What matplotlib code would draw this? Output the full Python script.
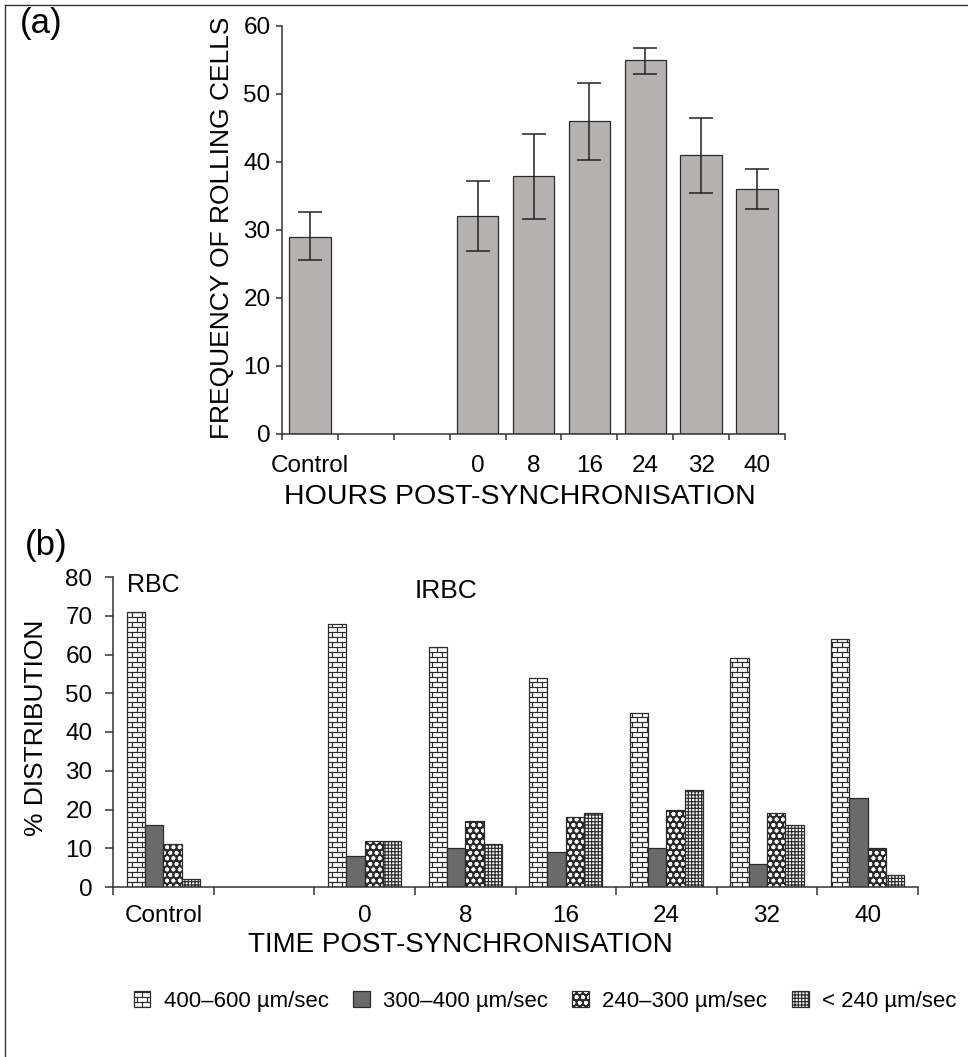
import warnings
import numpy as np
import matplotlib
matplotlib.use('Agg')
import matplotlib.pyplot as plt
from matplotlib import hatch as mhatch
from matplotlib.path import Path
from matplotlib.lines import Line2D

warnings.filterwarnings('ignore', message='hatch must consist')

# ---- data -------------------------------------------------------------
top_categories = ['Control', '', '', '0', '8', '16', '24', '32', '40']
top_bar_idx = [0, 3, 4, 5, 6, 7, 8]
top_values = [29, 32, 38, 46, 55, 41, 36]
top_err_low = [25.6, 26.9, 31.6, 40.3, 53.0, 35.4, 33.1]
top_err_high = [32.6, 37.2, 44.1, 51.6, 56.8, 46.5, 39.0]

bot_categories = ['Control', '', '0', '8', '16', '24', '32', '40']
bot_group_idx = [0, 2, 3, 4, 5, 6, 7]
speed_labels = ['400\u2013600 \u00b5m/sec', '300\u2013400 \u00b5m/sec',
                '240\u2013300 \u00b5m/sec', '< 240 \u00b5m/sec']
speed_400_600 = [71, 68, 62, 54, 45, 59, 64]
speed_300_400 = [16, 8, 10, 9, 10, 6, 23]
speed_240_300 = [11, 12, 17, 18, 20, 19, 10]
speed_below_240 = [2, 12, 11, 19, 25, 16, 3]


# ---- custom hatches (brick wall 'b', packed circles 'c') ---------------
class BrickHatch(mhatch.HatchPatternBase):
    def __init__(self, hatch, density):
        n = hatch.count('b')
        self.rows = 20 * n
        self.cols = 10 * n
        if n == 0:
            self.num_vertices = 0
            return
        h = 1.0 / self.rows
        w = 1.0 / self.cols
        segs = []
        for r in range(self.rows):
            y = (r + 0.5) * h
            segs.append(((0.0, y), (1.0, y)))
            shift = 0.25 * w if r % 2 == 0 else 0.75 * w
            for c in range(self.cols):
                x = c * w + shift
                y1 = y + h
                if y1 > 1.0:
                    segs.append(((x, y), (x, 1.0)))
                    segs.append(((x, 0.0), (x, y1 - 1.0)))
                else:
                    segs.append(((x, y), (x, y1)))
        self.segs = np.array(segs).reshape(-1, 2)
        self.num_vertices = len(self.segs)

    def set_vertices_and_codes(self, vertices, codes):
        vertices[:] = self.segs
        codes[0::2] = Path.MOVETO
        codes[1::2] = Path.LINETO


class PackedCircleHatch(mhatch.HatchPatternBase):
    def __init__(self, hatch, density):
        n = hatch.count('c')
        if n == 0:
            self.num_vertices = 0
            return
        cols = 16 * n
        rows = 18 * n
        rad = 0.48 / cols
        circ = Path.unit_circle()
        # outer ring forward + inner ring backward, so agg's fill leaves a thin ring
        ring_v = np.concatenate([circ.vertices, circ.vertices[::-1] * 0.97])
        ring_c = np.concatenate([circ.codes, circ.codes])
        verts, codes = [], []
        for r in range(rows):
            cy = (r + 0.5) / rows
            for c in range(cols):
                cx = (c + 0.25 + 0.5 * (r % 2)) / cols
                for dx in (-1, 0, 1):
                    for dy in (-1, 0, 1):
                        x0, y0 = cx + dx, cy + dy
                        if x0 + rad < 0 or x0 - rad > 1 or y0 + rad < 0 or y0 - rad > 1:
                            continue
                        verts.append(ring_v * rad + [x0, y0])
                        codes.append(ring_c)
        self.verts = np.concatenate(verts)
        self.codes = np.concatenate(codes)
        self.num_vertices = len(self.verts)

    def set_vertices_and_codes(self, vertices, codes):
        vertices[:] = self.verts
        codes[:] = self.codes


mhatch._hatch_types.extend([BrickHatch, PackedCircleHatch])

plt.rcParams['font.family'] = ['Liberation Sans', 'DejaVu Sans']
plt.rcParams['hatch.linewidth'] = 0.85

edge = '#2b2b2b'
fig = plt.figure(figsize=(9.68, 10.57), dpi=100)

# frame lines of the figure (top and left only)
fig.add_artist(Line2D([5 / 968, 5 / 968], [0, 1 - 5 / 1057], transform=fig.transFigure,
                      color='#333333', lw=1.0))
fig.add_artist(Line2D([5 / 968, 1], [1 - 5 / 1057, 1 - 5 / 1057], transform=fig.transFigure,
                      color='#333333', lw=1.0))


def style_axes(ax, ncat, ticklen, pad_x):
    for s in ['top', 'right']:
        ax.spines[s].set_visible(False)
    for s in ['left', 'bottom']:
        ax.spines[s].set_linewidth(1.1)
        ax.spines[s].set_color('#333333')
    ax.set_xlim(-0.5, ncat - 0.5)
    ax.set_xticks(np.arange(ncat + 1) - 0.5)
    ax.set_xticklabels([])
    ax.tick_params(axis='x', which='major', direction='out', length=ticklen,
                   width=1.1, color='#333333')
    ax.tick_params(axis='x', which='minor', length=0, pad=pad_x, labelsize=17.5)
    ax.tick_params(axis='y', direction='out', length=ticklen, width=1.1,
                   color='#333333', labelsize=17.5)


# ---- panel (a) --------------------------------------------------------
ax1 = fig.add_axes([282 / 968, 1 - 434 / 1057, 503 / 968, 408 / 1057])
yerr = [np.array(top_values) - np.array(top_err_low),
        np.array(top_err_high) - np.array(top_values)]
ax1.bar(top_bar_idx, top_values, width=0.74, color='#b6b1b1', edgecolor=edge,
        linewidth=0.9, yerr=yerr, capsize=8.5,
        error_kw=dict(elinewidth=1.1, capthick=1.1, ecolor='#222222'))
style_axes(ax1, len(top_categories), 4.3, 15)
ax1.set_xticks(np.arange(len(top_categories)), minor=True)
ax1.set_xticklabels(top_categories, minor=True)
ax1.set_ylim(0, 60)
ax1.set_yticks(np.arange(0, 61, 10))
ax1.tick_params(axis='y', pad=4)
ax1.set_ylabel('FREQUENCY OF ROLLING CELLS', fontsize=19)
ax1.yaxis.set_label_coords(-0.119, 0.505)
ax1.yaxis.label.set_va('center')
ax1.set_xlabel('HOURS POST-SYNCHRONISATION', fontsize=20.5)
ax1.xaxis.set_label_coords(0.473, -0.155)
ax1.xaxis.label.set_va('center')
fig.text(20 / 968, 1 - 24 / 1057, '(a)', fontsize=25, ha='left', va='center')

# ---- panel (b) --------------------------------------------------------
ax2 = fig.add_axes([113 / 968, 1 - 887 / 1057, 805 / 968, 310 / 1057])
bw = 0.182
series = [speed_400_600, speed_300_400, speed_240_300, speed_below_240]
faces = ['white', '#6a6a6a', 'white', 'white']
hatches = ['b', None, 'c', '+++++']
handles = []
for k, (vals, fc, ht) in enumerate(zip(series, faces, hatches)):
    pos = np.array(bot_group_idx) + (k - 1.5) * bw
    bars = ax2.bar(pos, vals, width=bw, color=fc, edgecolor=edge, linewidth=0.9,
                   hatch=ht, label=speed_labels[k])
    handles.append(bars)
style_axes(ax2, len(bot_categories), 5.8, 13)
ax2.set_xticks(np.arange(len(bot_categories)), minor=True)
ax2.set_xticklabels(bot_categories, minor=True)
ax2.set_ylim(0, 80)
ax2.set_yticks(np.arange(0, 81, 10))
ax2.tick_params(axis='y', pad=9)
ax2.set_ylabel('% DISTRIBUTION', fontsize=19)
ax2.yaxis.set_label_coords(-0.0957, 0.513)
ax2.yaxis.label.set_va('center')
ax2.set_xlabel('TIME POST-SYNCHRONISATION', fontsize=20)
ax2.xaxis.set_label_coords(0.431, -0.187)
ax2.xaxis.label.set_va('center')
ax2.text(-0.36, 78, 'RBC', fontsize=18, ha='left', va='center')
ax2.text(2.5, 76.5, 'IRBC', fontsize=19, ha='left', va='center')
fig.text(25 / 968, 1 - 546 / 1057, '(b)', fontsize=25, ha='left', va='center')

fig.legend(handles=handles, labels=speed_labels, loc='center',
           bbox_to_anchor=(545 / 968, 1 - 1001 / 1057), ncol=4, frameon=False,
           fontsize=16, handlelength=0.75, handleheight=0.75, handletextpad=0.6,
           columnspacing=1.1)

fig.savefig('out.png', dpi=100)
